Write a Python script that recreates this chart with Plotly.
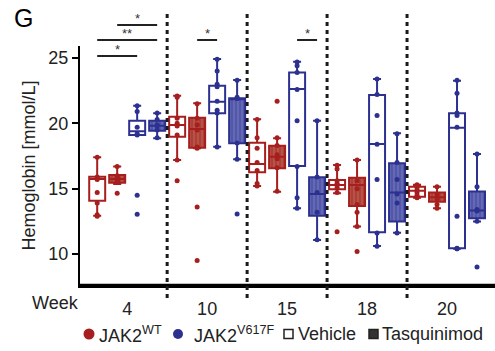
import plotly.graph_objects as go

weeks = ["4", "10", "15", "18", "20"]

# ---- box statistics ----
wt_veh_q1 = [14.08, 18.98, 16.25, 14.95, 14.39]
wt_veh_med = [15.74, 19.87, 16.89, 15.28, 14.85]
wt_veh_q3 = [15.92, 20.51, 18.52, 15.67, 15.15]
wt_veh_lo = [12.93, 17.2, 15.2, 14.65, 14.3]
wt_veh_hi = [17.4, 22.12, 20.31, 16.81, 15.3]
wt_veh_pts = [
    [17.4, 15.9, 15.8, 15.7, 14.7, 13.9, 13.0, 12.9],
    [22.1, 22.0, 20.4, 20.0, 19.8, 19.1, 17.2, 15.6],
    [20.3, 18.9, 18.1, 17.0, 16.4, 15.4, 15.2],
    [16.8, 16.5, 15.6, 15.4, 15.3, 15.1, 14.7, 11.7],
    [15.3, 15.1, 14.9, 14.7, 14.5, 14.3],
]

wt_tas_q1 = [15.46, 18.14, 16.56, 13.68, 14.01]
wt_tas_med = [15.75, 19.57, 17.45, 15.28, 14.34]
wt_tas_q3 = [16.05, 20.43, 18.29, 15.84, 14.7]
wt_tas_lo = [15.35, 18.1, 14.77, 12.1, 13.5]
wt_tas_hi = [16.7, 21.53, 18.86, 17.2, 15.15]
wt_tas_pts = [
    [16.7, 16.0, 15.9, 15.8, 15.7, 15.6, 15.5, 14.65],
    [21.5, 20.4, 19.9, 19.5, 18.2, 18.1, 13.6, 9.5],
    [21.7, 18.9, 18.3, 17.6, 17.3, 16.6, 14.8],
    [17.2, 15.6, 15.0, 13.8, 13.2, 12.1, 10.2],
    [15.15, 14.6, 14.4, 14.2, 13.8, 13.5],
]

mu_veh_q1 = [19.11, 20.77, 16.74, 11.66, 10.44]
mu_veh_med = [19.4, 21.66, 22.63, 18.42, 19.67]
mu_veh_q3 = [20.2, 22.88, 23.9, 22.17, 20.77]
mu_veh_lo = [19.11, 18.21, 13.5, 10.62, 10.4]
mu_veh_hi = [21.35, 24.92, 24.72, 23.39, 23.27]
mu_veh_pts = [
    [21.35, 20.9, 19.7, 19.2, 19.1, 14.5, 13.05],
    [24.9, 24.0, 23.0, 22.8, 21.7, 21.0, 20.8, 18.2],
    [24.7, 24.4, 23.9, 22.6, 20.2, 16.7, 14.3, 13.5],
    [23.4, 22.2, 20.6, 18.4, 15.7, 11.6, 10.6],
    [23.3, 22.3, 20.8, 20.6, 19.7, 12.9, 10.45, 10.4, 10.4],
]

mu_tas_q1 = [19.44, 18.47, 12.93, 12.48, 12.74]
mu_tas_med = [19.82, 21.88, 14.59, 14.7, 13.33]
mu_tas_q3 = [20.2, 21.92, 15.87, 16.94, 14.78]
mu_tas_lo = [18.86, 17.25, 11.08, 11.63, 12.48]
mu_tas_hi = [20.77, 23.32, 20.2, 19.24, 17.65]
mu_tas_pts = [
    [20.8, 20.3, 19.9, 19.8, 19.5, 18.9],
    [23.3, 22.0, 21.9, 18.5, 17.25, 13.06],
    [20.2, 15.9, 14.7, 13.2, 11.1],
    [19.2, 17.0, 15.7, 14.6, 13.9, 11.6],
    [17.65, 15.15, 13.4, 13.3, 12.5, 9.0],
]

# significance brackets: (week index, from group, to group, label, tier)
sig_week = [0, 0, 0, 1, 2]
sig_from = [0, 0, 1, 1, 2]
sig_to = [2, 3, 3, 2, 3]
sig_label = ["*", "**", "*", "*", "*"]
sig_tier = [0, 1, 2, 1, 1]

RED = "#A61E1E"
BLUE = "#2C3190"
RED_FILL = "#AD3F34"
BLUE_FILL = "#5257AA"

offsets = [-0.375, -0.125, 0.125, 0.375]
BW = 0.2
FONT = "Liberation Sans, Arial, sans-serif"

groups = [
    dict(q1=wt_veh_q1, med=wt_veh_med, q3=wt_veh_q3, lo=wt_veh_lo, hi=wt_veh_hi, pts=wt_veh_pts, col=RED, fill="white", pat=None),
    dict(q1=wt_tas_q1, med=wt_tas_med, q3=wt_tas_q3, lo=wt_tas_lo, hi=wt_tas_hi, pts=wt_tas_pts, col=RED, fill=RED_FILL, pat=True),
    dict(q1=mu_veh_q1, med=mu_veh_med, q3=mu_veh_q3, lo=mu_veh_lo, hi=mu_veh_hi, pts=mu_veh_pts, col=BLUE, fill="white", pat=None),
    dict(q1=mu_tas_q1, med=mu_tas_med, q3=mu_tas_q3, lo=mu_tas_lo, hi=mu_tas_hi, pts=mu_tas_pts, col=BLUE, fill=BLUE_FILL, pat=True),
]

fig = go.Figure()

for gi, g in enumerate(groups):
    xs = [wi + offsets[gi] for wi in range(len(weeks))]
    if g["pat"]:
        fig.add_trace(go.Bar(
            x=xs, y=[b - a for a, b in zip(g["q1"], g["q3"])], base=g["q1"], width=BW,
            marker=dict(color=g["fill"], line=dict(width=0),
                        pattern=dict(shape="|", fgcolor="rgba(255,255,255,0.3)", size=4, solidity=0.35)),
            showlegend=False, hoverinfo="skip"))
    fig.add_trace(go.Box(
        x=xs, q1=g["q1"], median=g["med"], q3=g["q3"],
        lowerfence=g["lo"], upperfence=g["hi"],
        width=BW, boxpoints=False,
        line=dict(color=g["col"], width=2),
        fillcolor="rgba(0,0,0,0)" if g["pat"] else "white",
        showlegend=False))
    px, py = [], []
    for wi, pts in enumerate(g["pts"]):
        px += [xs[wi]] * len(pts)
        py += pts
    fig.add_trace(go.Scatter(x=px, y=py, mode="markers",
                             marker=dict(color=g["col"], size=5),
                             showlegend=False, cliponaxis=False))

L, R, T, B = 80, 495, 46, 285
W_, H_ = R - L, B - T


def py2paper(p):
    return (B - p) / H_


def px2paper(p):
    return (p - L) / W_


shapes = []
# x-axis baseline
shapes.append(dict(type="line", xref="paper", yref="paper", x0=0, x1=1, y0=0, y1=0,
                   line=dict(color="black", width=2.5)))
for d in [0.5, 1.5, 2.5, 3.5]:
    shapes.append(dict(type="line", xref="x", yref="paper", x0=d, x1=d,
                       y0=py2paper(298), y1=py2paper(10),
                       line=dict(color="#1a1a1a", width=3, dash="4px,4px")))

annotations = []
tier_px = [56, 40, 25]
for w, a, b, lab, t in zip(sig_week, sig_from, sig_to, sig_label, sig_tier):
    x0 = w + offsets[a]
    x1 = w + offsets[b]
    yy = py2paper(tier_px[t])
    shapes.append(dict(type="line", xref="x", yref="paper", x0=x0, x1=x1, y0=yy, y1=yy,
                       line=dict(color="#222", width=2)))
    annotations.append(dict(x=(x0 + x1) / 2, y=yy, xref="x", yref="paper", text=lab,
                            showarrow=False, xanchor="center", yanchor="bottom", yshift=-3,
                            font=dict(size=13, color="#333", family=FONT)))

# panel letter
annotations.append(dict(x=px2paper(23), y=py2paper(18), xref="paper", yref="paper", text="G",
                        xanchor="center", yanchor="middle",
                        showarrow=False, font=dict(size=25, color="black", family=FONT)))
# Week label
annotations.append(dict(x=px2paper(55), y=py2paper(303), xref="paper", yref="paper", text="Week",
                        xanchor="center", yanchor="middle",
                        showarrow=False, font=dict(size=18, color="#222", family=FONT)))

# legend
ly = 334
shapes.append(dict(type="circle", xref="paper", yref="paper",
                   x0=px2paper(83.5), x1=px2paper(94.5), y0=py2paper(ly + 5.5), y1=py2paper(ly - 5.5),
                   fillcolor=RED, line=dict(width=0)))
shapes.append(dict(type="circle", xref="paper", yref="paper",
                   x0=px2paper(173), x1=px2paper(183), y0=py2paper(ly + 5), y1=py2paper(ly - 5),
                   fillcolor=BLUE, line=dict(width=0)))
shapes.append(dict(type="rect", xref="paper", yref="paper",
                   x0=px2paper(284), x1=px2paper(293), y0=py2paper(ly + 4.5), y1=py2paper(ly - 4.5),
                   fillcolor="white", line=dict(width=1.5, color="#222")))
shapes.append(dict(type="rect", xref="paper", yref="paper",
                   x0=px2paper(369), x1=px2paper(378), y0=py2paper(ly + 4.5), y1=py2paper(ly - 4.5),
                   fillcolor="#333", line=dict(width=1.5, color="#222")))
for xp, txt in [(97, "JAK2<sup>WT</sup>"), (192, "JAK2<sup>V617F</sup>"),
                (296, "Vehicle"), (380, "Tasquinimod")]:
    annotations.append(dict(x=px2paper(xp), y=py2paper(ly), xref="paper", yref="paper", text=txt,
                            xanchor="left", yanchor="middle", showarrow=False,
                            font=dict(size=18, color="#222", family=FONT)))

fig.update_layout(
    width=495, height=351,
    margin=dict(l=L, r=495 - R, t=T, b=351 - B),
    paper_bgcolor="white", plot_bgcolor="white",
    boxmode="overlay", barmode="overlay",
    showlegend=False,
    shapes=shapes, annotations=annotations,
    font=dict(family=FONT, color="#222", size=18),
    xaxis=dict(range=[-0.59, 4.6], tickmode="array", tickvals=list(range(len(weeks))),
               ticktext=weeks, showgrid=False, zeroline=False, automargin=False,
               showline=True, linecolor="black", linewidth=2.5,
               ticks="outside", ticklen=6, tickcolor="rgba(0,0,0,0)",
               tickfont=dict(size=18, color="#222")),
    yaxis=dict(range=[7.63, 25.92], tickvals=[10, 15, 20, 25], showgrid=False, zeroline=False,
               automargin=False,
               showline=True, linecolor="black", linewidth=2,
               ticks="outside", ticklen=6, tickwidth=2, tickcolor="black",
               tickfont=dict(size=18, color="#222"),
               title=dict(text="Hemoglobin [mmol/L]", standoff=8, font=dict(size=18, color="#222"))),
)

fig.write_html("out.html", config={"displayModeBar": False},
               post_script="document.body.style.margin='0';document.body.style.padding='0';")
